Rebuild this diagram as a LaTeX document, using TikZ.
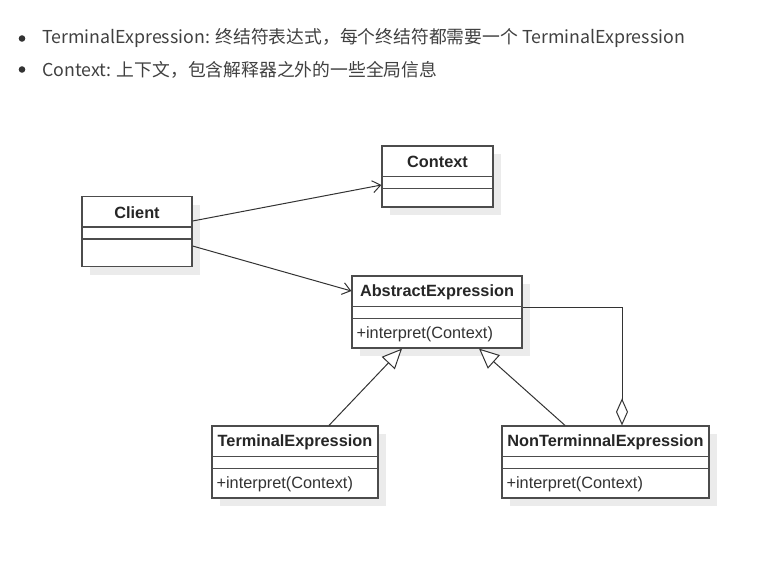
\documentclass[tikz,border=0pt]{standalone}
\usepackage{fontspec}
\setmainfont{Liberation Sans}
\newfontfamily\cjkfont{Noto Sans CJK SC}
\usetikzlibrary{arrows.meta,shadows}

\tikzset{
    umlbox/.style={draw=black!70, line width=1.2pt, fill=white,
        drop shadow={shadow xshift=8pt, shadow yshift=-8pt, fill=black!8, opacity=1}},
    umltitle/.style={inner sep=0pt, font=\fontsize{16.3}{19}\selectfont\bfseries, text=black!85},
    umlmethod/.style={inner sep=0pt, anchor=west, font=\fontsize{16.3}{19}\selectfont, text=black!80},
    bullettext/.style={inner sep=0pt, anchor=west, font=\cjkfont\fontsize{17.8}{21}\selectfont, text=black!75},
    assoc/.style={draw=black!80, line width=1pt, -{Straight Barb[length=8pt,width=12pt]}},
    inherit/.style={draw=black!80, line width=1pt, -{Triangle[open,length=20pt,width=18pt,fill=white]}},
    aggr/.style={draw=black!80, line width=1pt, -{Diamond[open,length=27pt,width=12pt,fill=white]}},
}

\begin{document}
\begin{tikzpicture}[x=1pt, y=-1pt]
    \useasboundingbox (0,0) rectangle (770,570);

    % bullet list
    \fill[black!80] (22,38.5) circle (3.3);
    \node[bullettext] (termline) at (42,38.5) {TerminalExpression: 终结符表达式，每个终结符都需要一个 TerminalExpression};
    \fill[black!80] (22,69.5) circle (3.3);
    \node[bullettext] (ctxline) at (42,69.5) {Context: 上下文，包含解释器之外的一些全局信息};

    % classes
    \node[umlbox, minimum width=110pt, minimum height=70pt] (client) at (137,231.5) {};
    \node[umlbox, minimum width=111pt, minimum height=61pt] (context) at (437.5,176.5) {};
    \node[umlbox, minimum width=170pt, minimum height=72pt] (abs) at (437,312) {};
    \node[umlbox, minimum width=166pt, minimum height=72pt] (term) at (295,462) {};
    \node[umlbox, minimum width=207pt, minimum height=72pt] (nonterm) at (605.5,462) {};

    \foreach \n in {client,context,abs,term,nonterm} {
        \draw[draw=black!70, line width=1.2pt] ([yshift=-31pt]\n.north west) -- ([yshift=-31pt]\n.north east);
        \draw[draw=black!70, line width=1.2pt] ([yshift=-43pt]\n.north west) -- ([yshift=-43pt]\n.north east);
    }

    \node[umltitle] (clientname) at ([yshift=-16.5pt]client.north) {Client};
    \node[umltitle] (contextname) at ([yshift=-16.5pt]context.north) {Context};
    \node[umltitle] (absname) at ([yshift=-16.5pt]abs.north) {AbstractExpression};
    \node[umltitle] (termname) at ([yshift=-16.5pt]term.north) {TerminalExpression};
    \node[umltitle] (nontermname) at ([yshift=-16.5pt]nonterm.north) {NonTerminnalExpression};

    \node[umlmethod] (absop) at ([xshift=5pt,yshift=14pt]abs.south west) {+interpret(Context)};
    \node[umlmethod] (termop) at ([xshift=5pt,yshift=14pt]term.south west) {+interpret(Context)};
    \node[umlmethod] (nontermop) at ([xshift=5pt,yshift=14pt]nonterm.south west) {+interpret(Context)};

    % relations
    \draw[assoc] ([yshift=10.5pt]client.east) -- ([yshift=-8.5pt]context.west);
    \draw[assoc] ([yshift=-14.5pt]client.east) -- ([yshift=21pt]abs.west);
    \draw[inherit] ([xshift=34pt]term.north) -- ([xshift=-35pt]abs.south);
    \draw[inherit] ([xshift=-40.5pt]nonterm.north) -- ([xshift=42pt]abs.south);
    \draw[aggr] ([yshift=5pt]abs.east) -| ([xshift=16.5pt]nonterm.north);
\end{tikzpicture}
\end{document}
